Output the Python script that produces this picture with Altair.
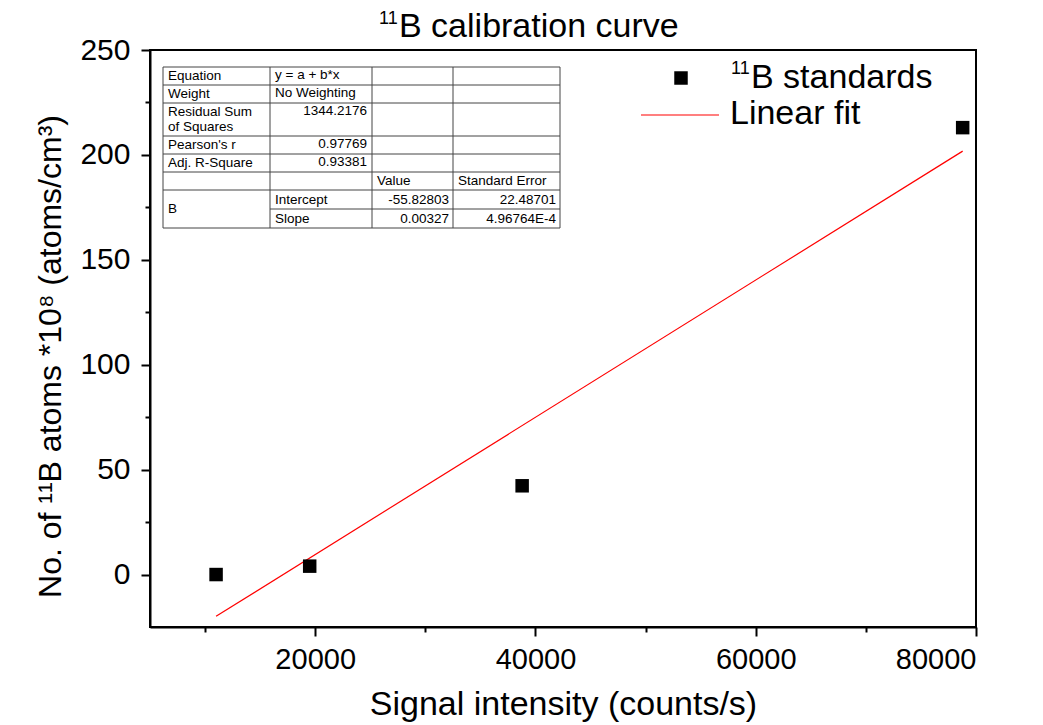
import altair as alt
import pandas as pd

# ---------------- data ----------------
signal = [11000, 19500, 38790, 78790]          # counts/s
atoms = [0.0, 4.0, 42.3, 213.0]                # 1e8 atoms/cm3
fit_signal = [11000, 78790]
fit_atoms = [-19.9, 201.8]

stat_names = ["Equation", "Weight", "Residual Sum", "of Squares", "Pearson's r", "Adj. R-Square"]
stat_values = ["y = a + b*x", "No Weighting", "1344.2176", "0.97769", "0.93381"]
param_header = ["Value", "Standard Error"]
param_group = "B"
param_names = ["Intercept", "Slope"]
param_values = ["-55.82803", "0.00327"]
param_errors = ["22.48701", "4.96764E-4"]

x_ticks = [10000, 20000, 30000, 40000, 50000, 60000, 70000, 80000]
y_ticks = [0, 25, 50, 75, 100, 125, 150, 175, 200, 225, 250]

FONT = "Liberation Sans"
OX, OY = 150, 50  # plot origin in page pixels (layout)

# ---------------- main marks ----------------
pts = pd.DataFrame({"signal": signal, "atoms": atoms})
fit = pd.DataFrame({"signal": fit_signal, "atoms": fit_atoms})

xscale = alt.Scale(domain=[5000, 80000], nice=False, zero=False)
yscale = alt.Scale(domain=[-25, 250], nice=False, zero=False)

xaxis = alt.Axis(
    values=x_ticks, format="d",
    labelExpr="datum.value % 20000 === 0 ? datum.label : ''",
    tickSize={"condition": {"test": "datum.value % 20000 === 0", "value": 9}, "value": 5},
    tickWidth=2, tickColor="black", domainColor="black", domainWidth=2,
    labelFont=FONT, labelFontSize=29, labelColor="black", labelPadding=9,
    grid=False,
    title="Signal intensity (counts/s)", titleFont=FONT, titleFontSize=34,
    titleFontWeight="normal", titleColor="black", titleY=87, titleBaseline="alphabetic",
)
yaxis = alt.Axis(
    values=y_ticks,
    labelExpr="datum.value % 50 === 0 ? datum.label : ''",
    tickSize={"condition": {"test": "datum.value % 50 === 0", "value": 9}, "value": 5},
    tickWidth=2, tickColor="black", domainColor="black", domainWidth=2,
    labelFont=FONT, labelFontSize=30, labelColor="black", labelPadding=11,
    grid=False,
    title="No. of \u00b9\u00b9B atoms *10\u2078 (atoms/cm\u00b3)", titleFont=FONT, titleFontSize=32,
    titleFontWeight="normal", titleColor="black", titleX=-90, titleY=306,
    titleAngle=270, titleAlign="center", titleBaseline="alphabetic",
)

points = alt.Chart(pts).mark_point(shape="square", filled=True, size=182, color="black", opacity=1).encode(
    x=alt.X("signal:Q", scale=xscale, axis=xaxis),
    y=alt.Y("atoms:Q", scale=yscale, axis=yaxis),
)
line = alt.Chart(fit).mark_line(color="red", strokeWidth=1.2).encode(
    x=alt.X("signal:Q", scale=xscale),
    y=alt.Y("atoms:Q", scale=yscale),
)

# ---------------- table (layout in pixels) ----------------
tl, c1, c2, c3, tr = 163, 270, 372, 453, 560
rows = [67, 85, 103, 136, 154, 172, 190, 209, 228]

lines = []
for i, ry in enumerate(rows):
    x0 = c1 if ry == 209 else tl
    lines.append({"x": x0 - OX, "x2": tr - OX, "y": ry - OY, "y2": ry - OY})
for cx in [tl, c1, c2, c3, tr]:
    lines.append({"x": cx - OX, "x2": cx - OX, "y": rows[0] - OY, "y2": rows[-1] - OY})
lines_df = pd.DataFrame(lines)

cells = []
def cell(txt, x, y, align):
    cells.append({"t": txt, "x": x - OX, "y": y - OY, "a": align})

name_y = [76, 94, 112, 127, 145, 163]
for n, yy in zip(stat_names, name_y):
    cell(n, tl + 5, yy, "left")
cell(stat_values[0], c1 + 5, 75, "left")
cell(stat_values[1], c1 + 5, 93, "left")
cell(stat_values[2], c2 - 5, 111, "right")
cell(stat_values[3], c2 - 5, 144, "right")
cell(stat_values[4], c2 - 5, 162, "right")
cell(param_header[0], c2 + 5, 181, "left")
cell(param_header[1], c3 + 5, 181, "left")
cell(param_group, tl + 5, 209, "left")
for k, yy in enumerate([199.5, 218.5]):
    cell(param_names[k], c1 + 5, yy, "left")
    cell(param_values[k], c3 - 4, yy, "right")
    cell(param_errors[k], tr - 4, yy, "right")
cells_df = pd.DataFrame(cells)

table_lines = alt.Chart(lines_df).mark_rule(color="#444", strokeWidth=1).encode(
    x=alt.X("x:Q", scale=None), x2="x2:Q",
    y=alt.Y("y:Q", scale=None), y2="y2:Q",
)
table_left = alt.Chart(cells_df[cells_df.a == "left"]).mark_text(
    font=FONT, fontSize=13.5, color="black", align="left", baseline="middle"
).encode(x=alt.X("x:Q", scale=None), y=alt.Y("y:Q", scale=None), text="t:N")
table_right = alt.Chart(cells_df[cells_df.a == "right"]).mark_text(
    font=FONT, fontSize=13.5, color="black", align="right", baseline="middle"
).encode(x=alt.X("x:Q", scale=None), y=alt.Y("y:Q", scale=None), text="t:N")

# ---------------- legend (layout in pixels) ----------------
leg_pt = alt.Chart(pd.DataFrame({"x": [681 - OX], "y": [78 - OY]})).mark_point(
    shape="square", filled=True, size=182, color="black", opacity=1
).encode(x=alt.X("x:Q", scale=None), y=alt.Y("y:Q", scale=None))
leg_ln = alt.Chart(pd.DataFrame({"x": [641 - OX], "x2": [719 - OX], "y": [115 - OY]})).mark_rule(
    color="red", strokeWidth=1.2
).encode(x=alt.X("x:Q", scale=None), x2="x2:Q", y=alt.Y("y:Q", scale=None))

legend_txt = pd.DataFrame({
    "t": ["11", "B standards", "Linear fit"],
    "x": [731 - OX, 751 - OX, 730 - OX],
    "y": [74 - OY, 88 - OY, 124 - OY],
    "s": [18, 34, 34],
})
leg_text = alt.Chart(legend_txt).mark_text(
    font=FONT, color="black", align="left", baseline="alphabetic"
).encode(
    x=alt.X("x:Q", scale=None), y=alt.Y("y:Q", scale=None), text="t:N",
    size=alt.Size("s:Q", scale=None, legend=None),
)

# ---------------- title ----------------
title_txt = pd.DataFrame({
    "t": ["11", "B calibration curve"],
    "x": [379 - OX, 399 - OX],
    "y": [24 - OY, 37 - OY],
    "s": [18, 34],
})
title = alt.Chart(title_txt).mark_text(
    font=FONT, color="black", align="left", baseline="alphabetic"
).encode(
    x=alt.X("x:Q", scale=None), y=alt.Y("y:Q", scale=None), text="t:N",
    size=alt.Size("s:Q", scale=None, legend=None),
)

chart = alt.layer(
    line, points, table_lines, table_left, table_right, leg_pt, leg_ln, leg_text, title
).properties(
    width=826, height=577,
    autosize=alt.AutoSizeParams(type="none"),
    padding={"left": 150, "top": 50, "right": 67, "bottom": 98},
    background="white",
).configure_view(stroke="black", strokeWidth=2)

chart.save("out.html", embed_options={"renderer": "svg", "actions": False})
